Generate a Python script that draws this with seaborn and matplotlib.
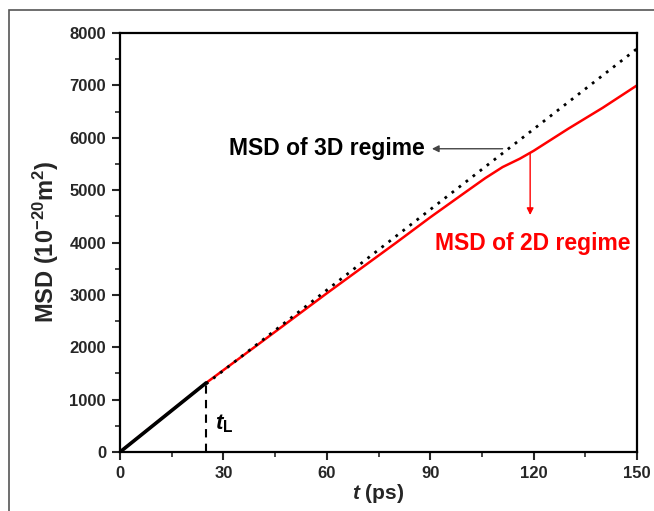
import matplotlib
matplotlib.use("Agg")
import matplotlib.pyplot as plt
from matplotlib.patches import Rectangle
from matplotlib.ticker import MultipleLocator
import seaborn as sns
import pandas as pd

# Data
t_black = [0, 25]
msd_black = [0, 1320]
t_fit = [25, 150]
msd_fit = [1300, 7700]
t_red = [0, 10, 25, 40, 60, 80, 90, 100, 106, 111, 116, 120, 130, 140, 150]
msd_red = [0, 530, 1320, 2050, 3030, 3990, 4480, 4950, 5230, 5440, 5600, 5750, 6170, 6570, 7000]
t_L = 25
msd_tL = 1320
xticks = [0, 30, 60, 90, 120, 150]
yticks = [0, 1000, 2000, 3000, 4000, 5000, 6000, 7000, 8000]

sns.set_theme(style="ticks")
plt.rcParams['font.family'] = ['Liberation Sans', 'DejaVu Sans']
plt.rcParams['font.weight'] = 'bold'
plt.rcParams['mathtext.fontset'] = 'custom'
plt.rcParams['mathtext.rm'] = 'Liberation Sans:bold'
plt.rcParams['mathtext.it'] = 'Liberation Sans:bold:italic'
plt.rcParams['mathtext.bf'] = 'Liberation Sans:bold'

fig = plt.figure(figsize=(6.54, 5.11), dpi=100)
ax = fig.add_axes([120/654, 1-452/511, (637-120)/654, (452-33)/511])

df_red = pd.DataFrame({"t": t_red, "msd": msd_red})
df_black = pd.DataFrame({"t": t_black, "msd": msd_black})
df_fit = pd.DataFrame({"t": t_fit, "msd": msd_fit})

sns.lineplot(data=df_red, x="t", y="msd", color="#ff0000", lw=1.8, ax=ax)
sns.lineplot(data=df_fit, x="t", y="msd", color="black", lw=2.0, ax=ax,
             dashes=False)
ax.lines[-1].set_linestyle((0, (1, 2.2)))
sns.lineplot(data=df_black, x="t", y="msd", color="black", lw=2.6, ax=ax)

ax.plot([t_L, t_L], [0, msd_tL], color="black", lw=1.5, ls=(0, (4, 3)))
ax.text(t_L + 2.5, 440, r"$t_{\mathrm{L}}$", fontsize=16, color="black")

ax.set_xlim(0, 150)
ax.set_ylim(0, 8000)
ax.set_xticks(xticks)
ax.set_yticks(yticks)
ax.xaxis.set_minor_locator(MultipleLocator(15))
ax.yaxis.set_minor_locator(MultipleLocator(500))
ax.tick_params(which="major", direction="out", length=6, width=1.5, labelsize=12, pad=4)
ax.tick_params(which="minor", direction="out", length=3.5, width=1.2)
for lab in ax.get_xticklabels() + ax.get_yticklabels():
    lab.set_fontweight("bold")
for s in ax.spines.values():
    s.set_visible(True)
    s.set_linewidth(1.6)
    s.set_color("black")

ax.set_xlabel(r"$t$ (ps)", fontsize=15, fontweight="bold", labelpad=1)
ax.set_ylabel(r"MSD (10$^{\mathbf{-20}}$m$^{\mathbf{2}}$)", fontsize=17,
              fontweight="bold", labelpad=6)

# annotations
ax.annotate("", xy=(90.5, 5790), xytext=(111, 5790),
            arrowprops=dict(arrowstyle="-|>", color="#444444", lw=1,
                            mutation_scale=10, shrinkA=0, shrinkB=0))
ax.text(88.5, 5800, "MSD of 3D regime", fontsize=16.5, fontweight="bold",
        color="black", ha="right", va="center")
ax.annotate("", xy=(119, 4525), xytext=(119, 5710),
            arrowprops=dict(arrowstyle="-|>", color="#ff0000", lw=1,
                            mutation_scale=10, shrinkA=0, shrinkB=0))
ax.text(148, 3990, "MSD of 2D regime", fontsize=16.5, fontweight="bold",
        color="#ff0000", ha="right", va="center")

# outer frame
fig.patches.append(Rectangle((9/654, -0.1), 1.2, 1 - 10/511 + 0.1,
                             transform=fig.transFigure, fill=False,
                             edgecolor="#555555", lw=1.2))

fig.savefig("out.png", dpi=100)
